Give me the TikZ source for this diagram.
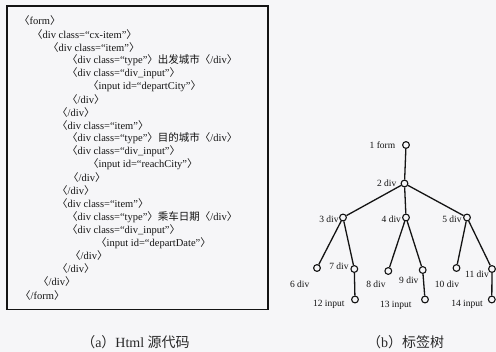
\documentclass[tikz,border=0pt]{standalone}
\usepackage{fontspec}
\setmainfont{Liberation Serif}
\newfontfamily\cjk{Noto Sans CJK SC}
\usetikzlibrary{positioning}
\definecolor{paper}{RGB}{246,246,248}
\definecolor{ink}{RGB}{20,20,20}
\definecolor{capgray}{RGB}{40,40,40}
\newcommand{\htag}[1]{{\cjk 〈}#1{\cjk 〉}}

\begin{document}
\begin{tikzpicture}[x=1pt, y=-1pt,
  code/.style={anchor=west, inner sep=0pt, text=ink, font=\fontsize{10.5}{12}\selectfont},
  vert/.style={circle, draw=ink, fill=paper, line width=1.1pt, minimum size=6.8pt, inner sep=0pt},
  lbl/.style={inner sep=0pt, text=ink, font=\fontsize{9.5}{11}\selectfont},
  branch/.style={ink, line width=1.3pt},
  caption/.style={inner sep=0pt, text=capgray, font=\fontsize{14}{16}\selectfont}]
  \fill[paper] (0,0) rectangle (496,352);
  \useasboundingbox (0,0) rectangle (496,352);

  % (a) source code
  \draw[ink, line width=1.8pt] (7,6) rectangle (268,309.5);
  \node[code] (l1)  at (19,21)     {\htag{form}};
  \node[code] (l2)  at (32,34.05)  {\htag{div class=“cx-item”}};
  \node[code] (l3)  at (48,47.1)   {\htag{div class=“item”}};
  \node[code] (l4)  at (67,60.15)  {\htag{div class=“type”}{\cjk 出发城市}\htag{/div}};
  \node[code] (l5)  at (67,73.2)   {\htag{div class=“div\_input”}};
  \node[code] (l6)  at (88,86.25)  {\htag{input id=“departCity”}};
  \node[code] (l7)  at (67,99.3)   {\htag{/div}};
  \node[code] (l8)  at (57,112.35) {\htag{/div}};
  \node[code] (l9)  at (57,125.4)  {\htag{div class=“item”}};
  \node[code] (l10) at (67,138.45) {\htag{div class=“type”}{\cjk 目的城市}\htag{/div}};
  \node[code] (l11) at (67,151.5)  {\htag{div class=“div\_input”}};
  \node[code] (l12) at (88,164.55) {\htag{input id=“reachCity”}};
  \node[code] (l13) at (68,177.6)  {\htag{/div}};
  \node[code] (l14) at (57,190.65) {\htag{/div}};
  \node[code] (l15) at (57,203.7)  {\htag{div class=“item”}};
  \node[code] (l16) at (67,216.75) {\htag{div class=“type”}{\cjk 乘车日期}\htag{/div}};
  \node[code] (l17) at (67,229.8)  {\htag{div class=“div\_input”}};
  \node[code] (l18) at (96,242.85) {\htag{input id=“departDate”}};
  \node[code] (l19) at (70,255.9)  {\htag{/div}};
  \node[code] (l20) at (57,268.95) {\htag{/div}};
  \node[code] (l21) at (38,282)    {\htag{/div}};
  \node[code] (l22) at (20,295.05) {\htag{/form}};

  % (b) tag tree
  \node[vert] (n1)  at (406,145)     {};
  \node[vert] (n2)  at (404.5,183.5) {};
  \node[vert] (n3)  at (343,217.5)   {};
  \node[vert] (n4)  at (406,217.5)   {};
  \node[vert] (n5)  at (467,217.5)   {};
  \node[vert] (n6)  at (317,268)     {};
  \node[vert] (n7)  at (354.3,269)   {};
  \node[vert] (n8)  at (388.3,271)   {};
  \node[vert] (n9)  at (422.7,270)   {};
  \node[vert] (n10) at (456.5,268)   {};
  \node[vert] (n11) at (492,269)     {};
  \node[vert] (n12) at (355,299.5)   {};
  \node[vert] (n13) at (425,299.5)   {};
  \node[vert] (n14) at (491.8,299.5) {};

  \draw[branch] (n1) -- (n2);
  \draw[branch] (n2) -- (n3);
  \draw[branch] (n2) -- (n4);
  \draw[branch] (n2) -- (n5);
  \draw[branch] (n3) -- (n6);
  \draw[branch] (n3) -- (n7);
  \draw[branch] (n4) -- (n8);
  \draw[branch] (n4) -- (n9);
  \draw[branch] (n5) -- (n10);
  \draw[branch] (n5) -- (n11);
  \draw[branch] (n7) -- (n12);
  \draw[branch] (n9) -- (n13);
  \draw[branch] (n11) -- (n14);

  \node[lbl] (t1)  at (382.5,145)   {1 form};
  \node[lbl] (t2)  at (386.7,183.3) {2 div};
  \node[lbl] (t3)  at (329,219)     {3 div};
  \node[lbl] (t4)  at (391.3,219)   {4 div};
  \node[lbl] (t5)  at (452,219.5)   {5 div};
  \node[lbl] (t6)  at (299.7,284)   {6 div};
  \node[lbl] (t7)  at (339,266.7)   {7 div};
  \node[lbl] (t8)  at (376,284)     {8 div};
  \node[lbl] (t9)  at (408.8,280.7) {9 div};
  \node[lbl] (t10) at (447,284)     {10 div};
  \node[lbl] (t11) at (477,274)     {11 div};
  \node[lbl] (t12) at (328.7,304)   {12 input};
  \node[lbl] (t13) at (395.8,305)   {13 input};
  \node[lbl] (t14) at (467,304)     {14 input};

  % captions
  \node[caption] (capa) at (135.5,342) {{\cjk （}a{\cjk ）}Html {\cjk 源代码}};
  \node[caption] (capb) at (405.5,342) {{\cjk （}b{\cjk ）标签树}};
\end{tikzpicture}
\end{document}
